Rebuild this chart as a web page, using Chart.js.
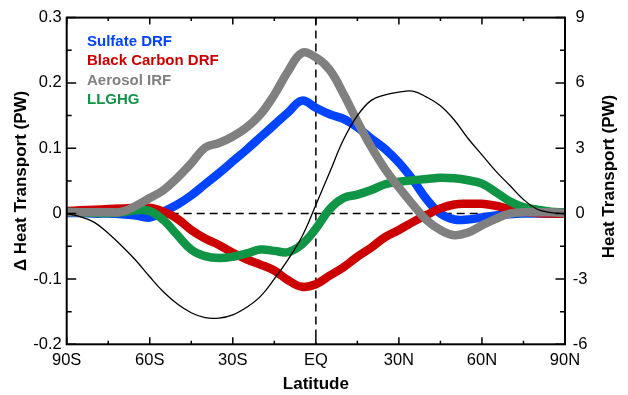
<!DOCTYPE html>
<html><head><meta charset="utf-8">
<script src="https://cdn.jsdelivr.net/npm/chart.js@4.4.1/dist/chart.umd.min.js"></script>
<style>html,body{margin:0;padding:0;background:#fff}#wrap{width:628px;height:395px;position:relative}</style>
</head><body><div id="wrap"><canvas id="c"></canvas></div>
<script>
// ---- data ----
const latitudes = [-90,-85,-80,-75,-70,-65,-60,-55,-50,-45,-40,-35,-30,-25,-20,-15,-10,-5,0,5,10,15,20,25,30,35,40,45,50,55,60,65,70,75,80,85,90];
const sulfateDRF = [0.001,0.001,0.000,0.000,-0.001,-0.003,-0.006,0.003,0.014,0.028,0.045,0.062,0.080,0.098,0.117,0.136,0.155,0.173,0.162,0.152,0.145,0.132,0.115,0.099,0.078,0.052,0.022,0.000,-0.009,-0.009,-0.006,-0.003,-0.001,0.000,0.000,0.000,0.000];
const blackCarbonDRF = [0.004,0.005,0.006,0.007,0.008,0.009,0.009,0.003,-0.008,-0.025,-0.038,-0.048,-0.060,-0.070,-0.078,-0.087,-0.102,-0.112,-0.108,-0.095,-0.082,-0.066,-0.052,-0.036,-0.025,-0.013,-0.002,0.008,0.014,0.015,0.015,0.012,0.007,0.003,0.001,0.000,0.000];
const aerosolIRF = [0.002,0.002,0.002,0.002,0.003,0.012,0.024,0.036,0.055,0.077,0.101,0.108,0.118,0.132,0.152,0.182,0.218,0.246,0.239,0.220,0.183,0.141,0.102,0.068,0.040,0.014,-0.010,-0.025,-0.033,-0.029,-0.018,-0.008,0.000,0.002,0.002,0.002,0.001];
const llghg = [0.003,0.002,0.001,0.001,0.002,0.005,0.004,-0.010,-0.033,-0.055,-0.065,-0.068,-0.066,-0.061,-0.055,-0.057,-0.059,-0.047,-0.023,0.007,0.024,0.029,0.036,0.045,0.049,0.051,0.053,0.055,0.054,0.051,0.046,0.033,0.019,0.010,0.006,0.003,0.002];
const heatTransport = [0,-0.15,-0.4,-0.9,-1.5,-2.15,-2.9,-3.6,-4.15,-4.55,-4.78,-4.8,-4.65,-4.3,-3.8,-3.0,-2.1,-1.05,0.4,1.9,3.4,4.5,5.2,5.45,5.58,5.62,5.35,4.95,4.3,3.45,2.7,1.95,1.3,0.65,0.2,0.05,0];
const seriesNames = ['Sulfate DRF','Black Carbon DRF','Aerosol IRF','LLGHG'];
const seriesColors = ['#0044ff','#cc0000','#808080','#109446'];
const xTickValues = [-90,-60,-30,0,30,60,90];
const xTickNames = ['90S','60S','30S','EQ','30N','60N','90N'];

const FONT = "'Liberation Sans', Arial, Helvetica, sans-serif";
Chart.defaults.font.family = FONT;
Chart.defaults.color = '#000';

function pts(vals){ return latitudes.map((x,i)=>({x:x,y:vals[i]})); }

const frameAndTicks = {
  id:'frameAndTicks',
  beforeDatasetsDraw(chart){
    const {ctx, chartArea:a, scales} = chart;
    ctx.save();
    ctx.strokeStyle='#000'; ctx.lineWidth=1.5; ctx.setLineDash([8,5]);
    const y0 = scales.y.getPixelForValue(0);
    const x0 = scales.x.getPixelForValue(0);
    ctx.beginPath(); ctx.moveTo(a.left,y0); ctx.lineTo(a.right,y0); ctx.stroke();
    ctx.beginPath(); ctx.moveTo(x0,a.top); ctx.lineTo(x0,a.bottom); ctx.stroke();
    ctx.restore();
  },
  afterDraw(chart){
    const {ctx, chartArea:a, scales} = chart;
    ctx.save();
    ctx.strokeStyle='#000'; ctx.lineWidth=1.5; ctx.setLineDash([]);
    ctx.beginPath();
    scales.x.ticks.forEach(t=>{
      const px = scales.x.getPixelForValue(t.value);
      const len = (Math.abs(t.value)%30===0)?7:3.5;
      ctx.moveTo(px,a.bottom); ctx.lineTo(px,a.bottom-len);
      ctx.moveTo(px,a.top); ctx.lineTo(px,a.top+len);
    });
    scales.y.ticks.forEach(t=>{
      const py = scales.y.getPixelForValue(t.value);
      const major = Math.abs(t.value*10-Math.round(t.value*10))<1e-6;
      ctx.moveTo(a.left,py); ctx.lineTo(a.left+(major?9.5:5),py);
    });
    scales.y2.ticks.forEach(t=>{
      const py = scales.y2.getPixelForValue(t.value);
      const major = Math.abs(t.value/3-Math.round(t.value/3))<1e-6;
      ctx.moveTo(a.right,py); ctx.lineTo(a.right-(major?9.5:5),py);
    });
    ctx.stroke();
    ctx.lineWidth=2;
    ctx.strokeRect(a.left,a.top,a.right-a.left,a.bottom-a.top);
    // legend
    ctx.font = "bold 15px "+FONT;
    ctx.textAlign='left'; ctx.textBaseline='middle';
    chart.data.datasets.forEach((ds,i)=>{
      if(ds.noLegend) return;
      ctx.fillStyle = ds.borderColor;
      ctx.fillText(ds.label, 87, 41.7 + i*19.4);
    });
    // right axis title
    ctx.save();
    ctx.translate(609, 176.5);
    ctx.rotate(-Math.PI/2);
    ctx.font = "bold 17px "+FONT;
    ctx.textAlign='center'; ctx.textBaseline='middle'; ctx.fillStyle='#000';
    ctx.fillText('Heat Transport (PW)',0,0);
    ctx.restore();
    ctx.restore();
  }
};

const datasets = seriesNames.map((n,i)=>({
  label:n,
  data: pts([sulfateDRF,blackCarbonDRF,aerosolIRF,llghg][i]),
  borderColor: seriesColors[i],
  borderWidth: 8.5,
  pointRadius: 0,
  tension:0.4,
  yAxisID:'y',
  order: [4,3,1,2][i]
}));
datasets.push({
  label:'Heat Transport',
  noLegend:true,
  data: pts(heatTransport),
  borderColor:'#000',
  borderWidth:1.3,
  pointRadius:0,
  tension:0.4,
  yAxisID:'y2',
  order:0
});

new Chart(document.getElementById('c'),{
  type:'line',
  data:{datasets},
  options:{
    responsive:true, maintainAspectRatio:false, animation:false,
    layout:{padding:{top:12.7,left:0,right:0,bottom:0}},
    plugins:{legend:{display:false},tooltip:{enabled:false}},
    scales:{
      x:{
        type:'linear', min:-90, max:90,
        grid:{display:false, drawTicks:false},
        border:{display:false},
        ticks:{stepSize:15, autoSkip:false, maxRotation:0, padding:6,
          font:{size:16.5},
          callback:(v)=>{const k=xTickValues.indexOf(v); return k>=0?xTickNames[k]:'';}},
        title:{display:true,text:'Latitude',font:{size:17,weight:'bold'},padding:{top:0,bottom:0}},
        afterFit:(s)=>{s.height=50.7;}
      },
      y:{
        type:'linear', position:'left', min:-0.2, max:0.3,
        grid:{display:false, drawTicks:false},
        border:{display:false},
        ticks:{stepSize:0.05, autoSkip:false, padding:5, font:{size:16.5},
          callback:(v)=>{return Math.abs(v*10-Math.round(v*10))<1e-6 ? String(Math.round(v*10)/10) : '';}},
        title:{display:true,text:'Δ Heat Transport (PW)',font:{size:17,weight:'bold'},padding:{top:10.8,bottom:0}},
        afterFit:(s)=>{s.width=66.7;}
      },
      y2:{
        type:'linear', position:'right', min:-6, max:9,
        grid:{display:false, drawTicks:false},
        border:{display:false},
        ticks:{stepSize:1.5, autoSkip:false, padding:7.7, crossAlign:'center', font:{size:16.5},
          callback:(v)=>{return Math.abs(v/3-Math.round(v/3))<1e-6 ? String(Math.round(v)) : '';}},
        afterFit:(s)=>{s.width=63;}
      }
    }
  },
  plugins:[frameAndTicks]
});
</script>
</body></html>
